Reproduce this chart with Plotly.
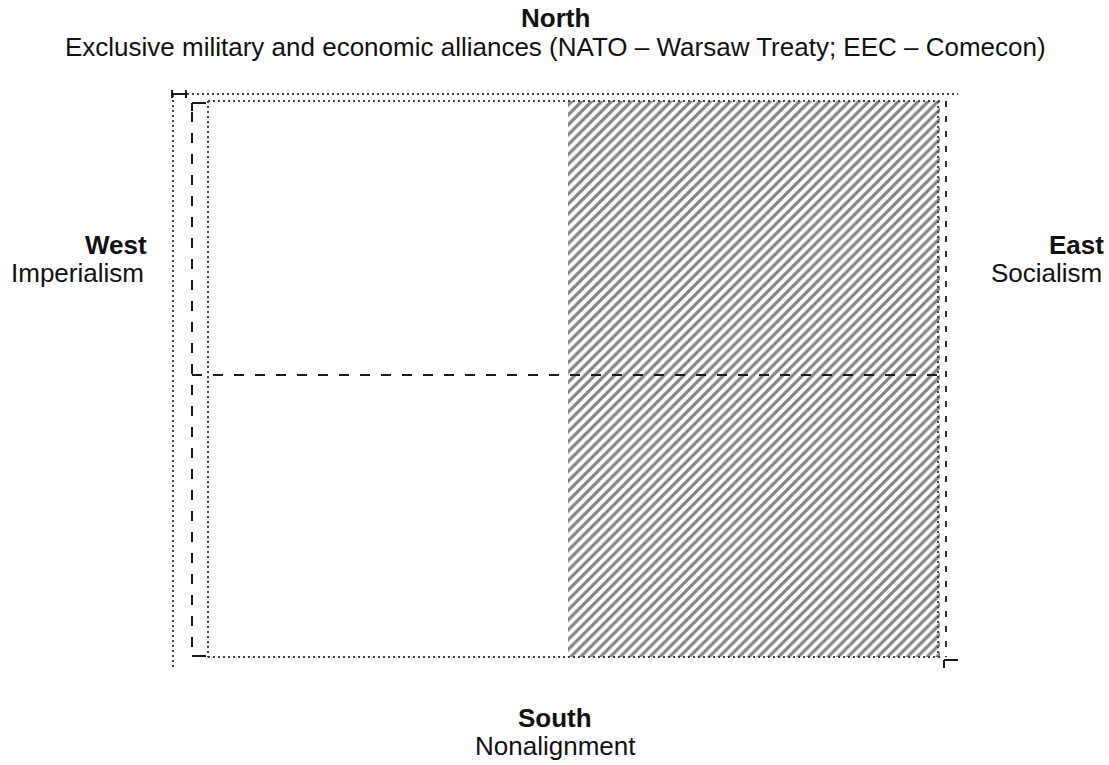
import plotly.graph_objects as go

# Compass labels (heading, subtitle)
headings = ["North", "West", "East", "South"]
subtitles = [
    "Exclusive military and economic alliances (NATO – Warsaw Treaty; EEC – Comecon)",
    "Imperialism",
    "Socialism",
    "Nonalignment",
]
head_x = [555, 149, 1106, 555]
head_anchor = ["center", "right", "right", "center"]
head_y = [18, 245, 245, 718]
sub_x = [555, 146, 1104, 555]
sub_y = [47, 273, 273, 746]

# East (socialist) half of the field — hatched area
east_x = [568, 940, 940, 568, 568]
east_y = [101, 101, 657, 657, 101]

W, H = 1109, 765
fig = go.Figure()

fig.add_trace(go.Scatter(
    x=east_x, y=east_y, mode="lines", fill="toself",
    line=dict(width=0, color="rgba(0,0,0,0)"),
    fillcolor="white",
    fillpattern=dict(shape="/", size=7, solidity=0.45, fgcolor="#0a0a0a", bgcolor="white"),
    hoverinfo="skip", showlegend=False,
))

shapes = []
dot = dict(color="#444", width=2, dash="2px,3px")
dash = dict(color="#1a1a1a", width=2, dash="10px,11px")
solid = dict(color="#1a1a1a", width=2)
# outer dotted lines
shapes.append(dict(type="line", x0=172, y0=94, x1=958, y1=94, line=dot))
shapes.append(dict(type="line", x0=173, y0=95, x1=173, y1=668, line=dot))
# inner dotted frame
shapes.append(dict(type="line", x0=208, y0=101, x1=940, y1=101, line=dot))
shapes.append(dict(type="line", x0=208, y0=101, x1=208, y1=657, line=dot))
shapes.append(dict(type="line", x0=208, y0=657, x1=940, y1=657, line=dot))
shapes.append(dict(type="line", x0=938, y0=101, x1=938, y1=657, line=dot))
# dashed axes
shapes.append(dict(type="line", x0=192, y0=112, x1=192, y1=656, line=dash))
shapes.append(dict(type="line", x0=192, y0=375, x1=940, y1=375, line=dash))
# corner ticks
shapes.append(dict(type="line", x0=192, y0=103, x1=206, y1=103, line=solid))
shapes.append(dict(type="line", x0=192, y0=103, x1=192, y1=111, line=solid))
shapes.append(dict(type="line", x0=192, y0=656, x1=206, y1=656, line=solid))
shapes.append(dict(type="line", x0=944, y0=660, x1=958, y1=660, line=solid))
shapes.append(dict(type="line", x0=944, y0=660, x1=944, y1=668, line=solid))
shapes.append(dict(type="line", x0=172, y0=90, x1=172, y1=98, line=solid))
shapes.append(dict(type="line", x0=186, y0=90, x1=186, y1=98, line=solid))
shapes.append(dict(type="line", x0=172, y0=94, x1=186, y1=94, line=solid))
# right edge marks of the hatched area
shapes.append(dict(type="line", x0=946, y0=101, x1=946, y1=657,
                   line=dict(color="#333", width=2, dash="6px,9px")))

font = dict(family="Liberation Sans, Arial", size=26, color="#111")
annotations = []
for h, s, hx, ha, hy, sx, sy in zip(headings, subtitles, head_x, head_anchor, head_y, sub_x, sub_y):
    annotations.append(dict(x=hx, y=hy, text="<b>%s</b>" % h, showarrow=False,
                            xanchor=ha, yanchor="middle", font=font))
    annotations.append(dict(x=sx, y=sy, text=s, showarrow=False,
                            xanchor=ha, yanchor="middle", font=font))

fig.update_layout(
    width=W, height=H, margin=dict(l=0, r=0, t=0, b=0),
    paper_bgcolor="white", plot_bgcolor="white",
    xaxis=dict(range=[0, W], visible=False, fixedrange=True),
    yaxis=dict(range=[H, 0], visible=False, fixedrange=True),
    shapes=shapes, annotations=annotations, showlegend=False,
)

fig.write_html(
    "out.html",
    config={"displayModeBar": False},
    post_script="document.body.style.margin='0';document.body.style.overflow='hidden';",
)
